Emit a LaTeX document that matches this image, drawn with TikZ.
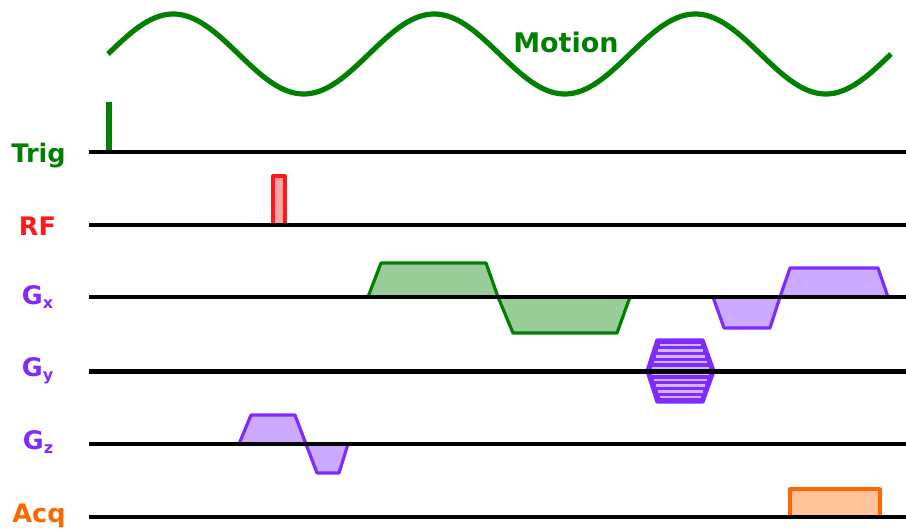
\documentclass[tikz,border=0pt]{standalone}
\usepackage{fontspec}
\setmainfont{DejaVu Sans}
\definecolor{motiongreen}{RGB}{0,128,0}
\definecolor{rfred}{RGB}{255,25,25}
\definecolor{gradpurple}{RGB}{127,42,255}
\definecolor{acqorange}{RGB}{255,102,0}
\newcommand{\gsub}[1]{G\raisebox{-4pt}{\fontsize{16}{16}\selectfont #1}}
\tikzset{
  axisline/.style={line width=4.2pt, black},
  motion/.style={line width=5.2pt, motiongreen},
  trigbar/.style={line width=5.5pt, motiongreen},
  pulse/.style={line width=3.2pt, line join=round},
  rfpulse/.style={pulse, draw=rfred, fill=rfred!40},
  gxgreen/.style={pulse, draw=motiongreen, fill=motiongreen!40},
  gpurple/.style={pulse, draw=gradpurple, fill=gradpurple!40},
  acqbox/.style={pulse, draw=acqorange, fill=acqorange!40},
  stripe/.style={line width=2.3pt, gradpurple!35},
  chanlabel/.style={font=\fontsize{25.5}{25.5}\selectfont\bfseries, anchor=base, inner sep=0pt},
}

\begin{document}
\begin{tikzpicture}[x=1pt,y=-1pt]
\useasboundingbox (0,0) rectangle (906,529);

% motion trace
\draw[motion] plot[domain=108:891, samples=240] (\x, {54-40*sin(1.37931*(\x-108))});
\node[chanlabel, font=\fontsize{27}{27}\selectfont\bfseries, text=motiongreen] (motion) at (566,53) {Motion};

% trigger
\draw[trigbar] (109,102) -- (109,152);

% RF
\draw[rfpulse] (273,176) rectangle (285,225);

% Gx
\draw[gxgreen] (368,297) -- (381,263) -- (486,263) -- (498,297) -- cycle;
\draw[gxgreen] (498,297) -- (513,333) -- (617,333) -- (630,297) -- cycle;
\draw[gpurple] (713,297) -- (724,328) -- (770,328) -- (780,297) -- cycle;
\draw[gpurple] (780,297) -- (790,268) -- (878,268) -- (888,297) -- cycle;

% Gy phase table
\draw[gpurple, fill=gradpurple] (647,371) -- (657,340) -- (703,340) -- (714,371)
  -- (703,402) -- (657,402) -- cycle;
\foreach \k in {-4.5,-3.5,...,4.5} {
  \pgfmathsetmacro\dy{5.85*\k}
  \pgfmathsetmacro\hw{29-10.5*abs(\dy)/31}
  \draw[stripe] ({680.5-\hw},{371+\dy}) -- ({680.5+\hw},{371+\dy});
}

% Gz
\draw[gpurple] (239,444) -- (251,415) -- (295,415) -- (306,444) -- cycle;
\draw[gpurple] (306,444) -- (317,473) -- (339,473) -- (348,444) -- cycle;

% Acq
\draw[acqbox] (790,489) rectangle (880,517);

% baselines
\foreach \y in {152,225,297,371.5,444,517}
  \draw[axisline] (89,\y) -- (906,\y);

% channel labels
\node[chanlabel, text=motiongreen] (trig) at (38.5,163) {Trig};
\node[chanlabel, text=rfred] (rf) at (37.5,236) {RF};
\node[chanlabel, text=gradpurple] (gx) at (37.5,305) {\gsub{x}};
\node[chanlabel, text=gradpurple] (gy) at (37.5,376.5) {\gsub{y}};
\node[chanlabel, text=gradpurple] (gz) at (38,450) {\gsub{z}};
\node[chanlabel, text=acqorange] (acq) at (39,522) {Acq};

\end{tikzpicture}
\end{document}
